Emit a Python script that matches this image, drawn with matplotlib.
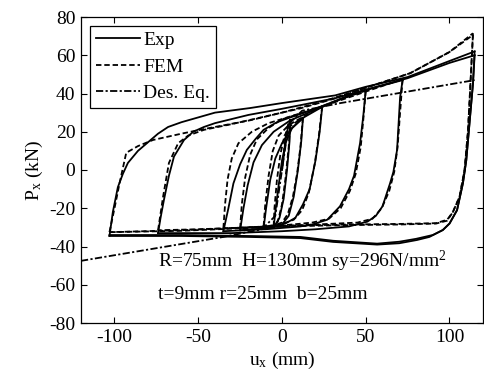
import matplotlib
matplotlib.use("Agg")
import matplotlib.pyplot as plt

plt.rcParams["font.family"] = ["Liberation Serif", "DejaVu Serif"]
plt.rcParams["mathtext.fontset"] = "custom"
plt.rcParams["mathtext.rm"] = "Liberation Serif"
plt.rcParams["mathtext.it"] = "Liberation Serif:italic"
plt.rcParams["axes.unicode_minus"] = False

exp_branches = [
    [(0, 0), (2, 15), (3.5, 22), (5, 26)],
    [(5, 26), (4.5, 15), (3, 0), (1, -15), (-1.5, -25), (-5, -30)],
    [(-5, -30), (-4, -22), (-2, -8), (0, 5), (2.5, 15), (6, 22), (12.5, 27)],
    [(12.5, 27), (11.5, 15), (9.5, 0), (7, -14), (4, -24), (0, -28.5), (-5, -30), (-11, -30.5)],
    [(-11, -30.5), (-9.5, -20), (-7, -5), (-4, 6), (0, 14), (5, 21), (12, 27), (24, 33)],
    [(24, 33), (22.5, 20), (20, 5), (16.5, -10), (12.5, -18), (8, -25), (2, -28), (-10, -30.5), (-25, -31.5)],
    [(-25, -31.5), (-23, -20), (-20.5, -8), (-17, 4), (-12, 13), (-5, 20), (5, 26), (20, 31.5), (35, 37), (50, 42)],
    [(50, 42), (48.5, 28), (46.6, 14), (43, -3), (40, -10), (34.6, -19), (27, -26), (18, -28.5), (11, -29.5), (-10, -31), (-35, -32)],
    [(-35, -32), (-32, -20), (-29, -7), (-25, 3), (-21, 10.5), (-16, 16), (-11, 21), (-3, 25), (5, 27.5), (20, 32), (40, 39), (55, 43), (72, 47)],
    [(72, 47), (70.5, 38), (68.7, 10.5), (66.5, -1), (64.5, -7), (60, -19), (56, -24), (51, -27), (40, -29.5), (20, -31), (0, -32), (-30, -33), (-60, -33), (-74, -33)],
    [(-74, -33), (-72.5, -25), (-70.5, -15.7), (-67.5, -3), (-64.5, 7), (-58.5, 15.7), (-53, 20), (-46.6, 22.5), (-40, 24.5), (-20, 28.8), (0, 32), (31.7, 37.5), (50, 42), (75, 48), (100, 56), (115, 60)],
    [(115, 60), (114, 45), (112, 25), (110, 5), (108, -7), (104.5, -21), (100, -28), (96, -31.4), (88, -35), (80.6, -36.6), (70, -38.3), (56.8, -39), (30.5, -37.6), (11, -35.6), (-20, -35), (-60, -34.5), (-103, -34.5)],
    [(-103, -34.5), (-101, -22), (-98, -9), (-95, -2), (-92, 3.7), (-86, 10), (-80, 14.5), (-74, 19), (-68, 22.5), (-60, 25), (-50, 27.5), (-40, 30), (-19, 32.4), (0, 35), (31.7, 39), (50, 43.5), (75, 48.6), (100, 57), (115, 62)],
    [(115, 62), (114, 45), (112, 25), (110, 5), (108, -7), (104.5, -21), (100, -28), (96, -31.4), (90, -34), (80, -36), (70, -37.5), (56.8, -38.5), (30.5, -37), (11, -35), (-20, -34.5), (-60, -34), (-103, -34)],
]

# ---- FEM branches
fem_branches = [
    [(0, 0), (2.5, 20), (4, 25), (5, 26.5)],
    [(5, 26.5), (4, 12), (2, -5), (0, -18), (-2.5, -27), (-5, -29.5)],
    [(-5, -29.5), (-4.5, -20), (-3, -5), (-1, 8), (1.5, 18), (5, 23), (12.5, 27.5)],
    [(12.5, 27.5), (11, 12), (9, -2), (6.5, -14), (3.5, -23), (0, -27.5), (-5, -29), (-11, -29.5)],
    [(-11, -29.5), (-10, -18), (-8, -3), (-5.5, 10), (-2, 18), (4, 23.5), (12, 27.5), (24, 33.5)],
    [(24, 33.5), (22, 18), (19.5, 3), (16, -12), (12, -21), (7, -26), (-1, -28.5), (-10, -29.5), (-25, -30.5)],
    [(-25, -30.5), (-24, -18), (-22, -4), (-19, 8), (-15, 16), (-8, 22), (0, 26.5), (20, 32), (35, 37), (50, 41.5)],
    [(50, 41.5), (48.5, 26), (47, 12), (44, -2), (40.5, -11), (35, -20), (28, -25.5), (18, -27.5), (0, -29), (-20, -30), (-35, -30.5)],
    [(-35, -30.5), (-34, -18), (-32.5, -5), (-30, 6), (-26, 14), (-18, 20), (-8, 24.5), (5, 28), (25, 33.5), (50, 41), (72, 47.5)],
    [(72, 47.5), (70.5, 30), (69, 12), (67, -1), (64, -11), (59.5, -20), (54, -25.5), (45, -27.5), (20, -28.5), (-20, -30), (-50, -31), (-74, -31.5)],
    [(-74, -31.5), (-71, -14), (-67.5, 3.7), (-62, 14), (-56, 18), (-46.6, 21), (-30, 24), (-10, 28), (10, 32), (30, 37), (50, 43), (76.5, 50.6), (100, 61.7), (114, 70.6)],
    [(114, 70.6), (112.5, 45), (111, 20), (109, 0), (106, -14), (102, -22), (98.6, -26), (92, -27.8), (70, -28.2), (40, -28.5), (11, -29), (-20, -30), (-60, -31.5), (-103, -32.5)],
    [(-103, -32.5), (-100, -20), (-97, -7), (-93, 9), (-86, 12.5), (-77, 15.7), (-60, 19), (-49, 21), (-19, 26), (0, 30), (25, 36), (50, 43), (76.5, 50.6), (100, 61.7), (114, 71.5)],
    [(114, 71.5), (112.5, 45), (111, 20), (109, 0), (106, -14), (102, -22), (98.6, -26.5), (92, -28), (70, -28.5), (40, -28.8), (11, -29.3), (-20, -30.3), (-60, -31.8), (-103, -32.5)],
]

# ---- design equation skeleton curve
des_x = [-120, -35, -12, -4, 0, 4, 12, 35, 115]
des_y = [-47.5, -35, -31, -24, 0, 24, 31, 35, 47]

xticks = [-100, -50, 0, 50, 100]
yticks = [-80, -60, -40, -20, 0, 20, 40, 60, 80]

FS = 14

fig = plt.figure(figsize=(4.85, 3.76), dpi=100)
ax = fig.add_axes([81 / 485, 53 / 376, 402 / 485, 306 / 376])

lw = 1.3
for i, br in enumerate(exp_branches):
    xs, ys = zip(*br)
    ax.plot(xs, ys, color="black", lw=lw, ls="-",
            label="Exp" if i == 0 else None)
for i, br in enumerate(fem_branches):
    xs, ys = zip(*br)
    ax.plot(xs, ys, color="black", lw=lw, ls=(0, (3, 1.6)),
            label="FEM" if i == 0 else None)
ax.plot(des_x, des_y, color="black", lw=lw, ls=(0, (4, 1.3, 1.2, 1.3)),
        label="Des. Eq.")

ax.set_xlim(-120, 120)
ax.set_ylim(-80, 80)
ax.set_xticks(xticks)
ax.set_yticks(yticks)
ax.tick_params(direction="in", top=True, right=True, length=4,
               labelsize=FS, pad=4)
for s in ax.spines.values():
    s.set_linewidth(0.9)

ax.set_xlabel(r"u$_{\mathregular{x}}$ (mm)", fontsize=FS, labelpad=3)
ax.set_ylabel(r"P$_{\mathregular{x}}$ (kN)", fontsize=FS, labelpad=3)

leg = ax.legend(loc="upper left", fontsize=FS, fancybox=False,
                edgecolor="black", framealpha=1, handlelength=2.3,
                borderpad=0.3, labelspacing=0.45, handletextpad=0.15,
                borderaxespad=0.45)
leg.get_frame().set_linewidth(0.9)

ax.text(-74, -48, r"R=75mm  H=130mm sy=296N/mm$^{\mathregular{2}}$",
        fontsize=FS, va="center", ha="left")
ax.text(-74, -65, "t=9mm r=25mm  b=25mm", fontsize=FS,
        va="center", ha="left")

fig.savefig("out.png", dpi=100)
